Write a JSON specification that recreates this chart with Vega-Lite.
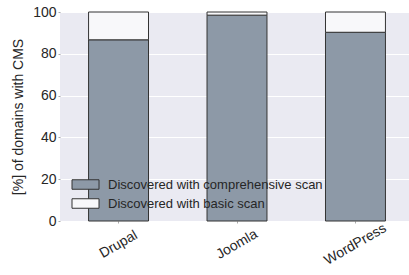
{
  "$schema": "https://vega.github.io/schema/vega-lite/v6.json",
  "width": 349,
  "height": 209,
  "autosize": {"type": "none"},
  "padding": {"left": 60, "top": 12, "right": 0, "bottom": 54},
  "background": "white",
  "config": {
    "font": "Liberation Sans",
    "view": {"fill": "#EAEAF2", "stroke": null},
    "axis": {"gridColor": "white", "gridWidth": 1, "gridOpacity": 1, "domain": false, "labelColor": "#262626", "titleColor": "#262626", "tickColor": "#AAAAAA", "tickSize": 2, "labelFontSize": 14, "titleFontSize": 14, "titleFontWeight": "normal"}
  },
  "data": {
    "values": [
      {"cms": "Drupal", "scan": "Discovered with comprehensive scan", "rank": 1, "pct": 86.7},
      {"cms": "Drupal", "scan": "Discovered with basic scan", "rank": 2, "pct": 13.3},
      {"cms": "Joomla", "scan": "Discovered with comprehensive scan", "rank": 1, "pct": 98.5},
      {"cms": "Joomla", "scan": "Discovered with basic scan", "rank": 2, "pct": 1.5},
      {"cms": "WordPress", "scan": "Discovered with comprehensive scan", "rank": 1, "pct": 90.3},
      {"cms": "WordPress", "scan": "Discovered with basic scan", "rank": 2, "pct": 9.7}
    ]
  },
  "mark": {"type": "bar", "stroke": "#333333", "strokeWidth": 1},
  "encoding": {
    "x": {
      "field": "cms", "type": "nominal", "sort": ["Drupal", "Joomla", "WordPress"],
      "scale": {"paddingInner": 0.494, "paddingOuter": 0.22, "align": 0.548},
      "axis": {"title": null, "labelAngle": -30, "labelAlign": "center", "labelBaseline": "middle", "labelPadding": 21, "grid": true, "ticks": true}
    },
    "y": {
      "field": "pct", "type": "quantitative", "stack": "zero",
      "scale": {"domain": [0, 100], "nice": false},
      "axis": {"title": "[%] of domains with CMS", "values": [0, 20, 40, 60, 80, 100], "labelPadding": 2, "titlePadding": 7, "grid": true}
    },
    "fill": {
      "field": "scan", "type": "nominal",
      "scale": {"domain": ["Discovered with comprehensive scan", "Discovered with basic scan"], "range": ["#8D99A7", "#F8F8FA"]},
      "legend": {
        "title": null, "orient": "none", "legendX": 19, "legendY": 166,
        "symbolType": "M-2.7,-0.95H2.7V0.95H-2.7Z", "symbolSize": 100,
        "symbolStrokeColor": "#333333", "symbolStrokeWidth": 1, "symbolOpacity": 1,
        "labelFontSize": 13, "labelColor": "#262626", "labelOffset": 16, "labelLimit": 400,
        "rowPadding": 4, "padding": 0, "offset": 0
      }
    },
    "order": {"field": "rank", "type": "quantitative"}
  }
}
